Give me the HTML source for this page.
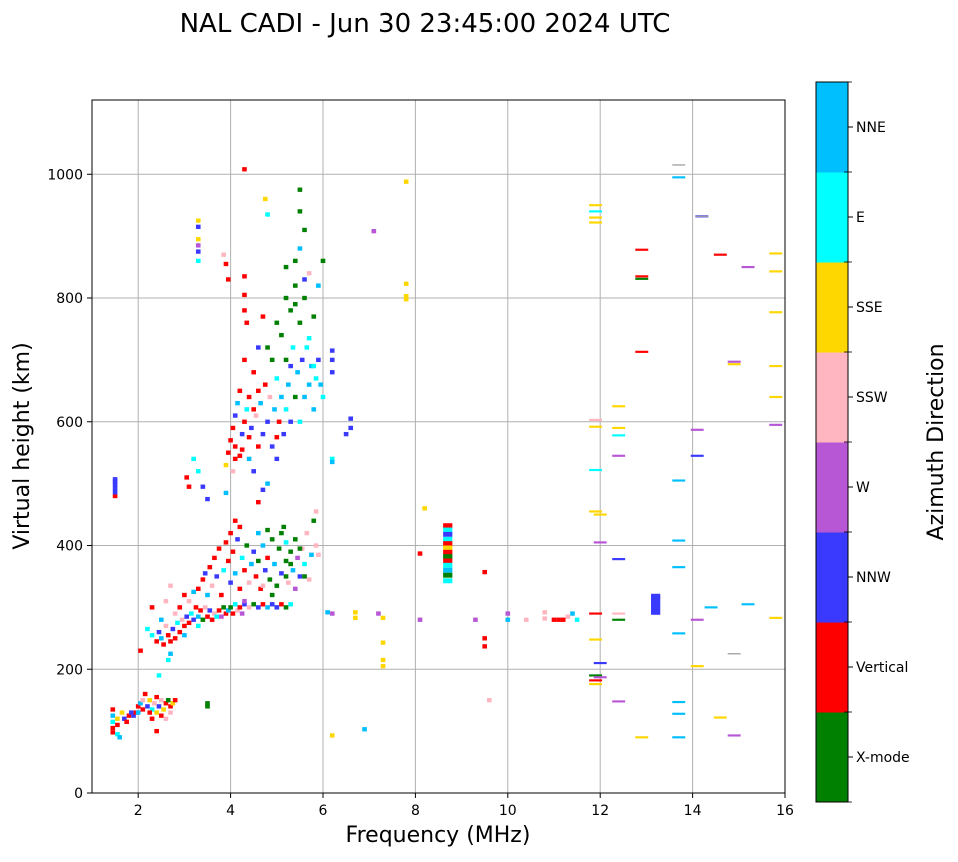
<!DOCTYPE html>
<html><head><meta charset="utf-8"><style>
body{margin:0;background:#fff;width:958px;height:857px;overflow:hidden;font-family:"Liberation Sans","DejaVu Sans",sans-serif}
svg text{font-family:"DejaVu Sans","Liberation Sans",sans-serif}
</style></head><body>
<svg id="chart" width="958" height="857" viewBox="0 0 958 857" xmlns="http://www.w3.org/2000/svg">
<text x="425" y="32" font-size="26" text-anchor="middle">NAL CADI - Jun 30 23:45:00 2024 UTC</text>
<g id="grid"></g>
<g id="marks"></g>
<rect x="92" y="100" width="693" height="693" fill="none" stroke="#000" stroke-width="1"/>
<g id="ticks"></g>
<text x="438" y="842" font-size="22" text-anchor="middle">Frequency (MHz)</text>
<text transform="translate(29,446) rotate(-90)" font-size="22" text-anchor="middle">Virtual height (km)</text>
<g id="cbar"></g>
<text transform="translate(943,442) rotate(-90)" font-size="22" text-anchor="middle">Azimuth Direction</text>
</svg>
<script>
const dirNames=["X-mode","Vertical","NNW","W","SSW","SSE","E","NNE"];
const dirColors=["#008000","#ff0000","#3a3aff","#b857d6","#ffb6c1","#ffd700","#00ffff","#00bfff"];
const xTicks=[2,4,6,8,10,12,14,16];
const yTicks=[0,200,400,600,800,1000];
// small echo cells
const freqs=[1.45,1.45,1.45,1.45,1.45,1.55,1.55,1.55,1.6,1.65,1.7,1.75,1.8,1.85,1.9,1.95,2.0,2.05,2.1,2.1,2.15,2.2,2.25,2.3,2.3,2.35,2.4,2.4,2.45,2.5,2.5,2.55,2.6,2.6,2.65,2.7,2.7,2.75,2.4,2.45,3.5,3.5,2.8,2.25,2.0,
2.05,2.3,2.4,2.45,2.5,2.55,2.6,2.65,2.7,2.7,2.75,2.8,2.85,2.9,2.95,3.0,3.0,3.05,3.1,3.15,3.2,3.25,3.3,3.35,3.4,3.45,3.5,3.55,3.6,3.65,3.7,3.75,3.8,3.85,3.9,3.95,4.0,4.05,4.1,4.15,4.2,4.25,4.3,4.4,4.5,4.6,4.7,4.8,4.9,5.0,5.1,5.2,5.3,2.3,2.6,2.9,3.0,3.1,3.2,3.3,2.8,2.5,2.2,2.7,2.65,
3.3,3.4,3.45,3.5,3.55,3.6,3.65,3.7,3.75,3.8,3.85,3.9,3.95,4.0,4.0,4.05,4.1,4.1,4.15,4.2,4.25,4.3,4.35,4.4,4.45,4.5,4.55,4.6,4.65,4.7,4.75,4.8,4.85,4.9,4.95,5.0,5.05,5.1,5.15,5.2,5.25,5.3,5.35,5.4,5.45,5.5,5.55,5.6,5.65,5.7,5.75,5.8,5.85,5.9,5.85,4.2,4.6,4.8,5.1,5.0,4.9,4.7,4.3,5.2,5.3,5.5,5.6,5.4,5.2,
3.9,3.95,4.0,4.05,4.1,4.1,4.15,4.2,4.2,4.25,4.3,4.3,4.35,4.35,4.4,4.4,4.45,4.5,4.5,4.55,4.6,4.6,4.65,4.7,4.7,4.75,4.8,4.8,4.85,4.9,4.9,4.95,5.0,5.0,5.05,5.1,5.1,5.15,5.2,5.2,5.25,5.3,5.3,5.35,5.4,5.4,5.45,5.5,5.5,5.55,5.6,5.6,5.65,5.7,5.7,5.75,5.8,5.8,5.85,5.9,5.95,6.0,6.0,5.5,5.5,4.8,4.75,4.3,4.3,4.3,3.9,3.95,3.85,5.6,5.2,5.4,5.5,4.1,4.05,4.5,4.6,4.8,5.0,5.2,5.4,5.6,5.9,5.0,4.7,4.6,3.9,3.2,3.05,3.1,3.3,3.4,3.5,4.4,4.25,5.7,5.8,5.3,
3.3,3.3,3.3,3.3,3.3,3.3,4.3,1.5,1.5,1.5,1.5,1.5,1.5,6.5,6.6,6.6,6.2,6.2,6.2,6.2,6.2,6.1,6.2,6.7,6.7,7.1,7.2,7.3,7.3,7.3,7.3,6.9,6.2,7.8,7.8,7.8,7.8,8.2,8.1,9.5,9.5,9.5,9.6,9.3,8.1,10.0,10.0,10.4,10.8,10.8,11.0,11.2,11.4,11.5,11.3,11.1];
const heights=[135,125,115,105,98,120,110,95,90,130,120,115,125,130,125,130,140,145,150,135,160,140,150,135,120,145,155,130,140,150,125,135,145,120,150,140,130,145,100,190,140,145,150,130,130,
230,255,245,260,250,240,270,255,245,225,265,250,275,260,280,270,255,285,275,290,280,300,285,295,280,300,285,295,280,290,285,295,285,300,290,295,300,290,305,295,300,290,305,300,305,300,305,300,305,300,305,300,305,300,310,300,320,310,325,270,290,280,265,335,215,
330,345,355,320,365,335,380,350,395,320,360,405,375,420,340,390,440,355,410,330,380,360,400,340,370,390,350,375,330,400,360,380,345,410,370,335,395,355,430,375,340,390,360,410,380,350,395,370,420,345,385,440,400,385,455,430,420,425,420,300,320,335,310,350,370,395,350,330,405,
530,550,570,590,610,560,630,545,650,580,600,700,620,760,540,640,590,680,520,610,560,720,630,580,770,660,600,500,640,560,700,620,670,540,600,740,640,580,700,620,660,780,600,720,640,820,680,600,760,700,640,800,720,660,840,690,620,770,670,700,660,640,860,975,940,935,960,835,805,780,855,830,870,910,850,860,880,540,520,620,650,720,760,800,790,830,820,575,490,470,485,540,510,495,520,495,475,575,555,735,690,690,
925,915,895,885,875,860,1008,480,486,492,498,503,507,580,590,605,715,700,680,540,535,292,290,292,283,908,290,283,243,215,205,103,93,988,823,803,798,460,387,357,250,237,150,280,280,290,280,280,282,292,280,280,290,280,285,280];
const dirs=[1,7,6,1,1,5,1,6,7,5,2,1,1,2,2,1,1,7,4,1,1,2,5,6,1,4,1,5,2,4,1,5,1,4,0,1,4,5,1,6,0,0,1,1,7,
1,6,1,2,7,1,4,1,1,7,2,1,6,1,4,1,7,2,1,6,2,1,7,1,0,4,1,2,1,4,6,1,3,0,1,7,0,1,6,4,1,3,2,4,0,2,1,7,2,7,1,0,6,1,4,1,1,4,7,6,4,7,6,4,6,
1,1,2,7,1,4,1,2,1,1,6,1,1,1,2,1,1,7,2,1,6,1,0,4,7,2,1,0,1,7,2,1,0,0,7,0,0,2,0,0,4,0,7,0,3,2,4,6,4,4,7,0,4,4,4,1,7,0,0,2,0,4,3,0,0,0,0,3,6,
5,1,1,1,2,1,7,1,1,2,1,1,6,1,7,1,2,1,2,4,1,2,7,2,1,1,2,7,4,2,0,7,6,2,1,0,7,2,0,6,7,0,2,6,0,0,7,6,0,2,7,0,6,7,4,7,7,0,6,2,7,6,0,0,0,6,5,1,1,1,1,1,4,0,0,0,7,1,4,1,1,0,0,0,0,2,7,1,2,1,7,6,1,1,6,2,2,1,1,6,6,2,
5,2,5,3,2,6,1,1,2,2,2,2,2,2,2,2,2,2,2,6,7,7,3,5,5,3,3,5,5,5,5,7,5,5,5,5,5,5,1,1,1,1,4,3,3,3,7,4,4,4,1,1,7,6,4,1];
// wide blocks (stacked / boxed echoes)
const blockFreqs=[8.7,8.7,8.7,8.7,8.7,8.7,8.7,8.7,8.7,8.7,8.7,8.7,8.7,13.2,13.2,13.2,13.2,13.2];
const blockHeights=[432,425,418,410,403,396,389,382,375,368,360,352,343,292,299,306,313,318];
const blockDirs=[1,6,2,6,1,5,1,0,1,6,7,0,6,2,2,2,2,2];
// thin horizontal traces on the right side
const lineFreqs=[13.7,14.2,12.9,12.9,12.9,12.9,14.6,15.2,15.8,15.8,15.8,15.8,15.8,15.8,15.8,14.9,14.9,11.9,11.9,11.9,11.9,12.4,12.4,12.4,12.4,11.9,11.9,11.9,11.9,12.0,12.0,12.4,11.9,12.4,12.4,11.9,12.0,11.9,11.9,11.9,12.0,12.4,12.9,13.7,13.7,13.7,13.7,13.7,13.7,13.7,14.1,14.1,14.1,14.1,14.4,15.2,14.6,14.9];
const lineHeights=[995,932,878,835,831,713,870,850,872,843,777,690,640,595,283,697,693,950,940,930,922,625,590,578,545,603,592,522,455,450,405,378,290,290,280,248,210,190,182,176,187,148,90,505,408,365,258,147,128,90,587,545,280,205,300,305,122,93];
const lineDirs=[7,2,1,1,0,1,1,3,5,5,5,5,5,3,5,3,5,5,6,5,5,5,5,6,3,4,5,6,5,5,3,2,1,4,0,5,2,0,1,5,3,3,5,7,7,7,7,7,7,7,3,2,3,5,7,7,5,3];
// faint gray traces (no direction)
const grayFreqs=[13.7,14.2,14.9];
const grayHeights=[1015,932,225];

const NS="http://www.w3.org/2000/svg";
const X0=92,X1=785,Y0=793,Y1=100,FMIN=1,FMAX=16,HMIN=0,HMAX=1120;
function xs(f){return X0+(f-FMIN)/(FMAX-FMIN)*(X1-X0);}
function ys(h){return Y0-(h-HMIN)/(HMAX-HMIN)*(Y0-Y1);}
function mk(tag,attrs,parent){const e=document.createElementNS(NS,tag);for(const k in attrs)e.setAttribute(k,attrs[k]);parent.appendChild(e);return e;}
const grid=document.getElementById('grid'),ticks=document.getElementById('ticks'),marks=document.getElementById('marks'),cbar=document.getElementById('cbar');
xTicks.forEach(t=>{const x=xs(t);
 const g=mk('line',{x1:x,x2:x,y1:Y1,y2:Y0,stroke:'#b0b0b0','stroke-width':1},grid);
 
 
 mk('line',{x1:x,x2:x,y1:Y0,y2:Y0+5,stroke:'#000'},ticks);
 const l=mk('text',{x:x,y:Y0+22,'font-size':14,'text-anchor':'middle'},ticks);l.textContent=t;
 
 
});
yTicks.forEach(t=>{const y=ys(t);
 const g=mk('line',{x1:X0,x2:X1,y1:y,y2:y,stroke:'#b0b0b0','stroke-width':1},grid);
 
 
 mk('line',{x1:X0-5,x2:X0,y1:y,y2:y,stroke:'#000'},ticks);
 const l=mk('text',{x:X0-9,y:y+5,'font-size':14,'text-anchor':'end'},ticks);l.textContent=t;
 
 
});
function cell(f,h,col,wf,hk,name){
 const x=xs(f-wf/2),y=ys(h+hk/2);
 const r=mk('rect',{x:x,y:y,width:xs(f+wf/2)-x,height:ys(h-hk/2)-y,fill:col},marks);
 
 
}
freqs.forEach((f,i)=>cell(f,heights[i],dirColors[dirs[i]],0.1,7,'echo-'+dirNames[dirs[i]].toLowerCase()));
blockFreqs.forEach((f,i)=>cell(f,blockHeights[i],dirColors[blockDirs[i]],0.2,8,'echo-block-'+dirNames[blockDirs[i]].toLowerCase()));
lineFreqs.forEach((f,i)=>cell(f,lineHeights[i],dirColors[lineDirs[i]],0.28,3.5,'echo-trace-'+dirNames[lineDirs[i]].toLowerCase()));
grayFreqs.forEach((f,i)=>cell(f,grayHeights[i],'#9a9a9a',0.28,2,'echo-trace-gray'));
// colorbar
const CX=816,CW=32,CT=82,CB=802,seg=(CB-CT)/dirNames.length;
dirNames.forEach((n,i)=>{const y=CB-(i+1)*seg;
 const r=mk('rect',{x:CX,y:y,width:CW,height:seg+0.5,fill:dirColors[i]},cbar);
 
 
 mk('line',{x1:CX+CW,x2:CX+CW+5,y1:y+seg/2,y2:y+seg/2,stroke:'#000'},cbar);
 const t=mk('text',{x:CX+CW+8,y:y+seg/2+5,'font-size':14},cbar);t.textContent=n;
 
 
});
for(let i=0;i<=dirNames.length;i++){const y=CB-i*seg;mk('line',{x1:CX+CW-4,x2:CX+CW+4,y1:y,y2:y,stroke:'#000','stroke-width':0.8},cbar);}
mk('rect',{x:CX,y:CT,width:CW,height:CB-CT,fill:'none',stroke:'#000','stroke-width':1},cbar);
</script>
</body></html>
